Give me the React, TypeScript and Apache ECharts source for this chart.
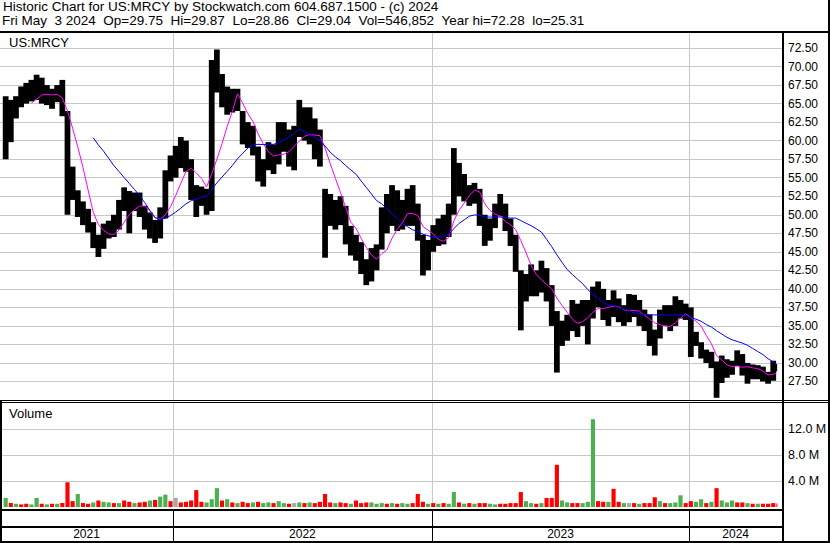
import React, { useEffect, useRef } from "react";
import * as echarts from "echarts";

// ---------- data (weekly) ----------
const TOTAL_DAYS = 751; // trading days shown (May 2021 .. May 3 2024)
const WEEK_DAYS = 5;
const AXIS_MIN_DAY = -3;
const AXIS_MAX_DAY = 756;
const yearLabels = ["2021", "2022", "2023", "2024"];
const yearStartDays = [165, 416, 666];

const weekOpen = [
  60, 62, 63.5, 65, 66.5, 66, 67, 66, 66.5, 65.5, 66, 66.5, 64, 55.5, 52.5, 50.5, 49.5, 48, 46, 45.5,
  48, 47.5, 49, 51.5, 52.5, 51.5, 52, 50.5, 49, 47.5, 47, 50.5, 55.5, 57, 58, 57.5, 56.5, 53, 52, 52.5,
  51, 68, 68.5, 65.5, 66, 64.5, 63.5, 60.5, 60, 59, 56, 56.5, 59, 57, 61, 59.5, 58, 61, 63, 61,
  62.5, 59, 52.5, 51, 50.5, 49, 51, 47, 45.5, 46, 42.5, 41.5, 45, 45.5, 50, 49, 52, 48.5, 50.5, 51,
  50, 47, 43, 45.5, 47.5, 46.5, 48.5, 50.5, 56.5, 54, 53.5, 52.5, 53, 49, 47, 48.5, 50.5, 51, 48.5, 46.5,
  42, 39.5, 41, 40.5, 41, 42.5, 39, 36, 33.5, 34.5, 35.5, 37, 35.5, 37.5, 36.5, 39, 38.5, 37, 36.5, 38.5,
  36, 36.5, 38, 37, 36, 35, 33, 33.5, 36.5, 36, 35.5, 38, 36.8, 37, 33.5, 32.5, 31.5, 30.5, 30, 27.5,
  30, 29, 30, 31, 29, 28, 29, 28.5, 28, 27.8, 29.75,
];
const weekHigh = [
  66, 65.5, 66, 67.3, 67.8, 68.2, 68.9, 68.5, 67.5, 67, 67.5, 68.2, 64, 56.5, 53.3, 51.8, 50.8, 49, 47.3, 48.8,
  49.2, 50, 52, 53.7, 53.2, 53, 53, 51.2, 50.3, 49.3, 51, 56, 58, 59.3, 60.5, 60, 57.5, 54, 53.8, 53.5,
  70.9, 72.3, 69, 67.3, 67, 67, 64, 62.5, 62, 59.2, 57.5, 59.8, 59.5, 62.5, 62.5, 61.5, 62, 65.5, 64.5, 64.5,
  63, 61.5, 53.5, 52.8, 52, 52.5, 51.2, 48.5, 47.3, 46.3, 44, 45.5, 46, 51, 52.8, 54, 53.3, 52, 53.5, 54,
  51.5, 47.3, 46.6, 48.6, 49.5, 50, 51.5, 59, 57, 55.5, 54, 54.3, 53.5, 50, 49.5, 51.5, 52.8, 51.5, 49.5, 47.3,
  42.5, 42, 43.3, 42.5, 43.8, 42.8, 40.5, 37, 35.7, 36.5, 38.5, 38, 38.5, 38.5, 40.3, 41, 40, 38.5, 39.8, 38.7,
  37.8, 39.3, 39.2, 38.5, 37.2, 36.5, 34.5, 37.2, 37.8, 37.8, 39, 38.5, 38, 37.5, 34.2, 32.8, 31.8, 31.5, 30.2, 31,
  30.5, 30.3, 31.7, 31.2, 30, 29.8, 29.7, 29.5, 28.8, 30.3, 29.87,
];
const weekLow = [
  57.5, 59.8, 63, 64.5, 65, 65.3, 65.5, 65, 64.8, 64.3, 65.2, 63.3, 50, 52, 49.7, 48.6, 47.6, 45.5, 44.3, 45.4,
  46.8, 47, 48, 50.5, 47.5, 50.5, 49.7, 48, 46.8, 46.2, 46.8, 49.5, 54.5, 55, 56.3, 55.8, 52, 49.7, 51.2, 50,
  50.5, 66.5, 64.5, 63.5, 63.8, 64, 59.5, 59, 58, 54.5, 53.8, 56, 55.5, 56.8, 58.5, 56.5, 56, 60.5, 60, 59.5,
  57.5, 56.5, 44.2, 48.5, 48, 48.6, 46, 44.5, 43.8, 42, 40.5, 41, 42.5, 45.3, 47.5, 48.5, 47.8, 48, 48.5, 48.5,
  46.5, 41.8, 42.5, 45, 45.8, 46, 47, 50, 52.5, 51.8, 51.2, 51.5, 48.5, 45.8, 46.5, 48.2, 49.8, 47.8, 45.8, 42.3,
  34.4, 38.3, 39, 39, 39.5, 38.3, 35, 28.7, 32.3, 33, 34.3, 33.5, 35, 32.5, 36, 37.5, 35.8, 35, 36.2, 35.5,
  35, 35.5, 36.2, 35, 34.3, 32.3, 31, 33.3, 35, 34.3, 35, 36, 35.8, 30.8, 32.3, 30.6, 30, 29.3, 25.3, 27.3,
  28, 28.4, 29.6, 28.3, 27.2, 27.8, 27.8, 27.5, 27.2, 27.6, 28.86,
];
const weekClose = [
  63, 63, 65, 66.5, 66, 67, 66, 66.5, 65.5, 66, 66.5, 64, 55.5, 52.5, 50.5, 49.5, 48, 46, 45.5, 48,
  47.5, 49, 51.5, 52.5, 51.5, 52, 50.5, 49, 47.5, 47, 50.5, 55.5, 57, 58, 57.5, 56.5, 53, 52, 52.5, 51,
  68, 68.5, 65.5, 66, 64.5, 65.5, 60.5, 60, 59, 56, 56.5, 59, 57, 61, 59.5, 58, 61, 63, 61, 62.5,
  59, 57.5, 51, 50.5, 49, 51, 47, 45.5, 46, 42.5, 41.5, 45, 43.5, 50, 49, 52, 48.5, 50.5, 51, 50,
  47.5, 43, 45.5, 47.5, 46.5, 48.5, 50.5, 56.5, 54, 53.5, 52.5, 53, 49, 47, 48.5, 50.5, 51, 48.5, 46.5, 43,
  39.5, 41, 40.5, 41, 42.5, 39, 36, 33.5, 34.5, 35.5, 37, 35.5, 37.5, 36.5, 39, 38.5, 37, 36.5, 38.5, 36,
  36.5, 38, 37, 36, 35, 33, 33.5, 36.5, 36, 35.5, 38, 36.8, 37, 33.5, 33, 31.5, 30.5, 30, 27.5, 30,
  29, 30, 31, 29, 28, 29, 28.5, 28, 27.8, 29.5, 29.04,
];
// weekly peak daily volume, millions of shares
const weekVolume = [
  1.4, 0.6, 0.5, 0.4, 0.5, 0.4, 1.4, 0.5, 0.4, 0.5, 0.5, 0.6, 3.8, 0.9, 2.0, 0.6, 0.5, 0.7, 1.0, 0.8,
  0.7, 0.6, 0.6, 1.0, 0.8, 0.6, 0.7, 0.8, 1.0, 1.1, 1.6, 1.9, 0.9, 1.4, 0.7, 0.8, 1.0, 2.6, 0.8, 0.7,
  1.2, 2.9, 1.0, 1.2, 0.7, 0.6, 0.8, 0.6, 0.7, 0.8, 0.6, 0.7, 0.6, 0.9, 0.6, 0.5, 0.6, 0.7, 0.6, 0.7,
  0.6, 0.8, 2.0, 0.7, 0.6, 0.7, 0.6, 0.5, 1.0, 0.6, 0.7, 0.7, 0.5, 0.6, 0.5, 0.6, 0.5, 0.6, 0.5, 0.6,
  2.0, 0.8, 0.5, 0.6, 0.5, 0.6, 0.5, 2.3, 0.7, 0.5, 0.6, 0.5, 0.6, 0.6, 0.5, 0.4, 0.5, 0.5, 0.6, 0.6,
  2.3, 0.9, 0.6, 0.5, 0.6, 1.4, 1.4, 6.5, 1.0, 0.7, 0.6, 0.6, 0.6, 0.8, 13.5, 0.9, 0.8, 0.8, 2.8, 0.8,
  0.6, 0.6, 0.6, 0.5, 0.6, 0.6, 1.5, 0.9, 0.6, 0.6, 0.7, 1.8, 0.6, 0.9, 0.8, 1.2, 0.6, 0.8, 2.9, 1.0,
  0.7, 1.0, 0.7, 0.7, 0.6, 0.5, 0.5, 0.5, 0.5, 0.6, 0.55,
];
// g = up, r = down, n = unchanged
const weekVolumeDir = [
  "g","r","g","r","r","g","g","r","g","r","g","r","r","r","g","r","r","g","r","g",
  "g","r","g","r","r","g","r","r","g","r","g","g","r","n","r","r","r","r","r","g",
  "g","g","r","g","r","g","r","r","g","r","g","g","r","g","g","r","n","g","r","g",
  "r","r","r","r","g","r","r","g","r","r","r","g","g","g","r","g","r","g","g","r",
  "r","r","g","r","g","r","g","g","r","g","r","g","r","r","g","g","r","r","r","r",
  "r","g","g","r","g","r","r","r","g","g","r","r","g","g","g","r","r","g","r","r",
  "g","n","r","g","r","r","r","g","r","g","g","g","r","r","g","g","r","g","r","g",
  "g","g","r","r","g","r","g","r","r","r","r",
];
const MA_SHORT_WEEKS = 6;  // ~30 day
const MA_LONG_WEEKS = 18;  // ~90 day
const priceTickStep = 2.5;
const volumeTickStep = 4;

const quote = {
  date: "Fri May  3 2024",
  op: "29.75",
  hi: "29.87",
  lo: "28.86",
  cl: "29.04",
  vol: "546,852",
  yearHi: "72.28",
  yearLo: "25.31",
};

// ---------- helpers ----------
const weekStart = (k: number) => k * WEEK_DAYS;
const weekEnd = (k: number) => Math.min(k * WEEK_DAYS + WEEK_DAYS, TOTAL_DAYS);
const weekMid = (k: number) => (weekStart(k) + weekEnd(k)) / 2;

function movingAverage(n: number) {
  const out: [number, number][] = [];
  for (let k = n - 1; k < weekClose.length; k++) {
    let s = 0;
    for (let j = k - n + 1; j <= k; j++) s += weekClose[j];
    out.push([weekMid(k), s / n]);
  }
  return out;
}

const FONT = "Liberation Sans, Arial, sans-serif";
const HEADER_FONT = `13.5px ${FONT}`;
const GRID_COLOR = "#c8c8c8";
const VOL_COLORS: Record<string, string> = { g: "#4caf50", r: "#ff0000", n: "#a8a8a8" };

// split a line into words, each placed where it would fall in the whole line (spaces kept)
function wordsOf(line: string, font: string) {
  const cv = document.createElement("canvas");
  const ctx = cv.getContext("2d");
  if (ctx) ctx.font = font;
  const out: { word: string; dx: number }[] = [];
  const re = /\S+/g;
  let m: RegExpExecArray | null;
  while ((m = re.exec(line))) {
    const prefix = line.slice(0, m.index);
    const dx = ctx ? ctx.measureText(prefix).width : prefix.length * 6.5;
    out.push({ word: m[0], dx });
  }
  return out;
}

export default function App() {
  const ref = useRef<HTMLDivElement>(null);

  useEffect(() => {
    if (!ref.current) return;
    const chart = echarts.init(ref.current, null, { renderer: "svg" });

    const priceData = weekHigh.map((h, k) => [weekStart(k), weekEnd(k), weekLow[k], h, weekOpen[k], weekClose[k]]);
    const volData = weekVolume.map((v, k) => [weekStart(k), weekEnd(k), v, k]);
    const bounds = [AXIS_MIN_DAY, ...yearStartDays, AXIS_MAX_DAY];
    const yearMidData = yearLabels.map((_lab, i) => [(bounds[i] + bounds[i + 1]) / 2, i]);

    const xAxisBase = {
      type: "value" as const,
      min: AXIS_MIN_DAY,
      max: AXIS_MAX_DAY,
      axisLine: { show: false },
      axisTick: { show: false },
      axisLabel: { show: false },
      splitLine: { show: false },
    };

    const yearLine = (color: string, z: number, gridIdx: number) => ({
      type: "custom" as const,
      xAxisIndex: gridIdx,
      yAxisIndex: gridIdx,
      silent: true,
      z,
      data: yearStartDays.map((d) => [d]),
      encode: { x: 0 },
      renderItem: (params: any, api: any) => {
        const cs = params.coordSys;
        const x = Math.round(api.coord([api.value(0), 0])[0]) + 0.5;
        return {
          type: "line",
          shape: { x1: x, y1: cs.y, x2: x, y2: cs.y + cs.height },
          style: { stroke: color, lineWidth: 1 },
        };
      },
    });

    const rect = (x: number, y: number, w: number, h: number) => ({
      type: "rect",
      shape: { x, y, width: w, height: h },
      style: { fill: "#000" },
      silent: true,
      z: 100,
    });
    const text = (x: number, y: number, t: string, font: string, lh: number) => ({
      type: "text",
      x,
      y,
      silent: true,
      z: 100,
      style: { text: t, font, lineHeight: lh, fill: "#000", verticalAlign: "top" },
    });

    const header1 = "Historic Chart for US:MRCY by Stockwatch.com 604.687.1500 - (c) 2024";
    const header2 = `${quote.date}  Op=${quote.op}  Hi=${quote.hi}  Lo=${quote.lo}  Cl=${quote.cl}  Vol=${quote.vol}  Year hi=${quote.yearHi}  lo=${quote.yearLo}`;

    const headerTexts = [
      ...wordsOf(header1, HEADER_FONT).map((w) => text(3 + w.dx, 0, w.word, HEADER_FONT, 13.5)),
      ...wordsOf(header2, HEADER_FONT).map((w) => text(2 + w.dx, 14, w.word, HEADER_FONT, 13.5)),
    ];

    chart.setOption({
      animation: false,
      backgroundColor: "#fff",
      grid: [
        { left: 0, top: 33, width: 782, height: 367 },
        { left: 0, top: 403, width: 782, height: 104 },
        { left: 0, top: 511, width: 782, height: 30 },
      ],
      xAxis: [
        { ...xAxisBase, gridIndex: 0 },
        { ...xAxisBase, gridIndex: 1 },
        { ...xAxisBase, gridIndex: 2 },
      ],
      yAxis: [
        {
          type: "value",
          gridIndex: 0,
          position: "right",
          min: 25,
          max: 74.53,
          interval: priceTickStep,
          axisLine: { show: false },
          axisTick: { show: false },
          splitLine: { show: true, showMinLine: false, showMaxLine: false, lineStyle: { color: GRID_COLOR, width: 1 } },
          axisLabel: {
            margin: 6,
            align: "left",
            fontFamily: FONT,
            fontSize: 12,
            color: "#000",
            showMinLabel: false,
            showMaxLabel: false,
            formatter: (v: number) => (v <= 25 || v > 73 ? "" : v.toFixed(2)),
          },
        },
        {
          type: "value",
          gridIndex: 1,
          position: "right",
          min: 0,
          max: 16,
          interval: volumeTickStep,
          axisLine: { show: false },
          axisTick: { show: false },
          splitLine: { show: true, showMinLine: false, showMaxLine: false, lineStyle: { color: GRID_COLOR, width: 1 } },
          axisLabel: {
            margin: 6,
            align: "left",
            fontFamily: FONT,
            fontSize: 12.5,
            color: "#000",
            formatter: (v: number) => (v <= 0 || v >= 16 ? "" : `${v.toFixed(1)} M`),
          },
        },
        { type: "value", gridIndex: 2, min: 0, max: 1, show: false },
      ],
      series: [
        yearLine(GRID_COLOR, 1, 0),
        yearLine(GRID_COLOR, 1, 1),
        yearLine("#000", 1, 2),
        {
          type: "custom",
          name: "price",
          xAxisIndex: 0,
          yAxisIndex: 0,
          z: 3,
          silent: true,
          data: priceData,
          encode: { x: [0, 1], y: [2, 3] },
          renderItem: (_p: any, api: any) => {
            const a = api.coord([api.value(0), api.value(3)]);
            const b = api.coord([api.value(1), api.value(2)]);
            return {
              type: "rect",
              shape: { x: a[0] - 0.3, y: a[1], width: Math.max(1, b[0] - a[0] + 0.6), height: Math.max(1, b[1] - a[1]) },
              style: { fill: "#000" },
            };
          },
        },
        {
          type: "line",
          name: "MA short",
          xAxisIndex: 0,
          yAxisIndex: 0,
          z: 4,
          silent: true,
          showSymbol: false,
          data: movingAverage(MA_SHORT_WEEKS),
          lineStyle: { color: "#ff00ff", width: 1 },
        },
        {
          type: "line",
          name: "MA long",
          xAxisIndex: 0,
          yAxisIndex: 0,
          z: 4,
          silent: true,
          showSymbol: false,
          data: movingAverage(MA_LONG_WEEKS),
          lineStyle: { color: "#0000ff", width: 1 },
        },
        {
          type: "custom",
          name: "volume",
          xAxisIndex: 1,
          yAxisIndex: 1,
          z: 3,
          silent: true,
          data: volData,
          encode: { x: [0, 1], y: 2 },
          renderItem: (_p: any, api: any) => {
            const a = api.coord([api.value(0), api.value(2)]);
            const b = api.coord([api.value(1), 0]);
            const k = api.value(3);
            return {
              type: "rect",
              shape: { x: a[0] + 0.5, y: a[1], width: Math.max(1, b[0] - a[0] - 1), height: Math.max(1, b[1] - a[1]) },
              style: { fill: VOL_COLORS[weekVolumeDir[k]] },
            };
          },
        },
        {
          type: "custom",
          name: "years",
          xAxisIndex: 2,
          yAxisIndex: 2,
          silent: true,
          data: yearMidData,
          encode: { x: 0 },
          renderItem: (params: any, api: any) => {
            const cs = params.coordSys;
            const x = api.coord([api.value(0), 0])[0];
            return {
              type: "text",
              style: {
                text: yearLabels[api.value(1)],
                x,
                y: cs.y + cs.height - 7,
                align: "center",
                verticalAlign: "middle",
                font: `12px ${FONT}`,
                fill: "#000",
              },
            };
          },
        },
      ],
      graphic: [
        ...headerTexts,
        text(9, 35, "US:MRCY", `13px ${FONT}`, 14),
        text(9, 406, "Volume", `13px ${FONT}`, 14),
        rect(0, 31, 830, 2),
        rect(828, 0, 2, 543),
        rect(782, 33, 2, 510),
        rect(0, 400, 830, 1),
        rect(0, 402, 830, 1),
        rect(0, 509, 782, 2),
        rect(0, 526, 782, 2),
        rect(0, 541, 830, 2),
        rect(0, 400, 2, 143),
      ],
    });

    return () => chart.dispose();
  }, []);

  return (
    <div
      ref={ref}
      style={{ position: "absolute", left: 0, top: 0, width: 830, height: 543, background: "#fff" }}
    />
  );
}
